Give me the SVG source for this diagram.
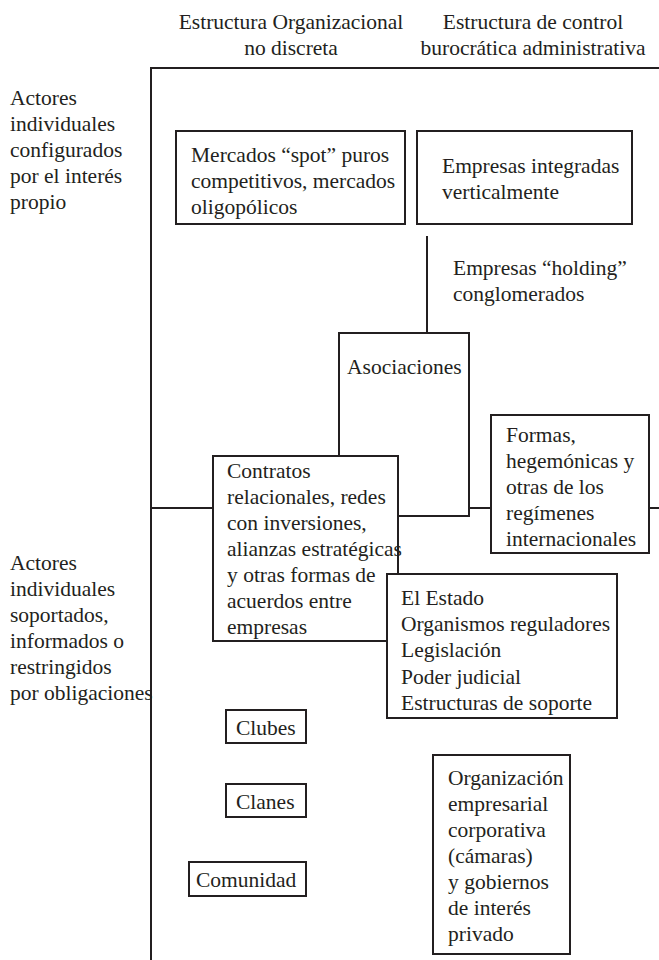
<svg xmlns="http://www.w3.org/2000/svg" width="659" height="960" viewBox="0 0 659 960">
<style>
text{font-family:"Liberation Serif","Times New Roman",serif;font-size:21.5px;fill:#231f20}
.box{fill:#fff;stroke:#231f20;stroke-width:2}
.ax{stroke:#231f20;stroke-width:2;fill:none}
.c{text-anchor:middle}
</style>
<rect width="659" height="960" fill="#fff"/>
<g id="headers">
<text class="c" x="291" y="29">Estructura Organizacional</text>
<text class="c" x="291" y="55">no discreta</text>
<text class="c" x="533" y="29">Estructura de control</text>
<text class="c" x="533" y="55">burocrática administrativa</text>
</g>
<g id="axes">
<path class="ax" d="M151 960V68H659"/>
<path class="ax" d="M151 508H659"/>
</g>
<g id="row-labels">
<text x="10" y="105">Actores</text>
<text x="10" y="131">individuales</text>
<text x="10" y="157">configurados</text>
<text x="10" y="183">por el interés</text>
<text x="10" y="209">propio</text>
<text x="10" y="570">Actores</text>
<text x="10" y="596">individuales</text>
<text x="10" y="622">soportados,</text>
<text x="10" y="648">informados o</text>
<text x="10" y="674">restringidos</text>
<text x="10" y="700">por obligaciones</text>
</g>
<g id="mercados">
<rect class="box" x="176" y="131" width="229" height="93"/>
<text x="191" y="162">Mercados “spot” puros</text>
<text x="191" y="188">competitivos, mercados</text>
<text x="191" y="214">oligopólicos</text>
</g>
<g id="empresas-integradas">
<rect class="box" x="417" y="131" width="215" height="93"/>
<text x="442" y="173">Empresas integradas</text>
<text x="442" y="199">verticalmente</text>
</g>
<g id="connectors">
<path class="ax" d="M427 236V333"/>
</g>
<g id="holding">
<text x="453" y="275">Empresas “holding”</text>
<text x="453" y="301">conglomerados</text>
</g>
<g id="asociaciones">
<rect class="box" x="339" y="333" width="130" height="183"/>
<text x="347" y="374">Asociaciones</text>
</g>
<g id="contratos">
<rect class="box" x="213" y="456" width="185" height="185"/>
<text x="227" y="478">Contratos</text>
<text x="227" y="504">relacionales, redes</text>
<text x="227" y="530">con inversiones,</text>
<text x="227" y="556">alianzas estratégicas</text>
<text x="227" y="582">y otras formas de</text>
<text x="227" y="608">acuerdos entre</text>
<text x="227" y="634">empresas</text>
</g>
<g id="formas">
<rect class="box" x="491" y="415" width="158" height="138"/>
<text x="506" y="442">Formas,</text>
<text x="506" y="468">hegemónicas y</text>
<text x="506" y="494">otras de los</text>
<text x="506" y="520">regímenes</text>
<text x="506" y="546">internacionales</text>
</g>
<g id="estado">
<rect class="box" x="387" y="574" width="230" height="144"/>
<text x="401" y="605">El Estado</text>
<text x="401" y="631">Organismos reguladores</text>
<text x="401" y="657">Legislación</text>
<text x="401" y="684">Poder judicial</text>
<text x="401" y="710">Estructuras de soporte</text>
</g>
<g id="clubes">
<rect class="box" x="226" y="710" width="80" height="33"/>
<text x="236" y="735">Clubes</text>
</g>
<g id="clanes">
<rect class="box" x="226" y="784" width="80" height="33"/>
<text x="236" y="809">Clanes</text>
</g>
<g id="comunidad">
<rect class="box" x="189" y="862" width="117" height="34"/>
<text x="196" y="887">Comunidad</text>
</g>
<g id="organizacion">
<rect class="box" x="433" y="755" width="137" height="199"/>
<text x="448" y="785">Organización</text>
<text x="448" y="811">empresarial</text>
<text x="448" y="837">corporativa</text>
<text x="448" y="863">(cámaras)</text>
<text x="448" y="889">y gobiernos</text>
<text x="448" y="915">de interés</text>
<text x="448" y="941">privado</text>
</g>
</svg>
